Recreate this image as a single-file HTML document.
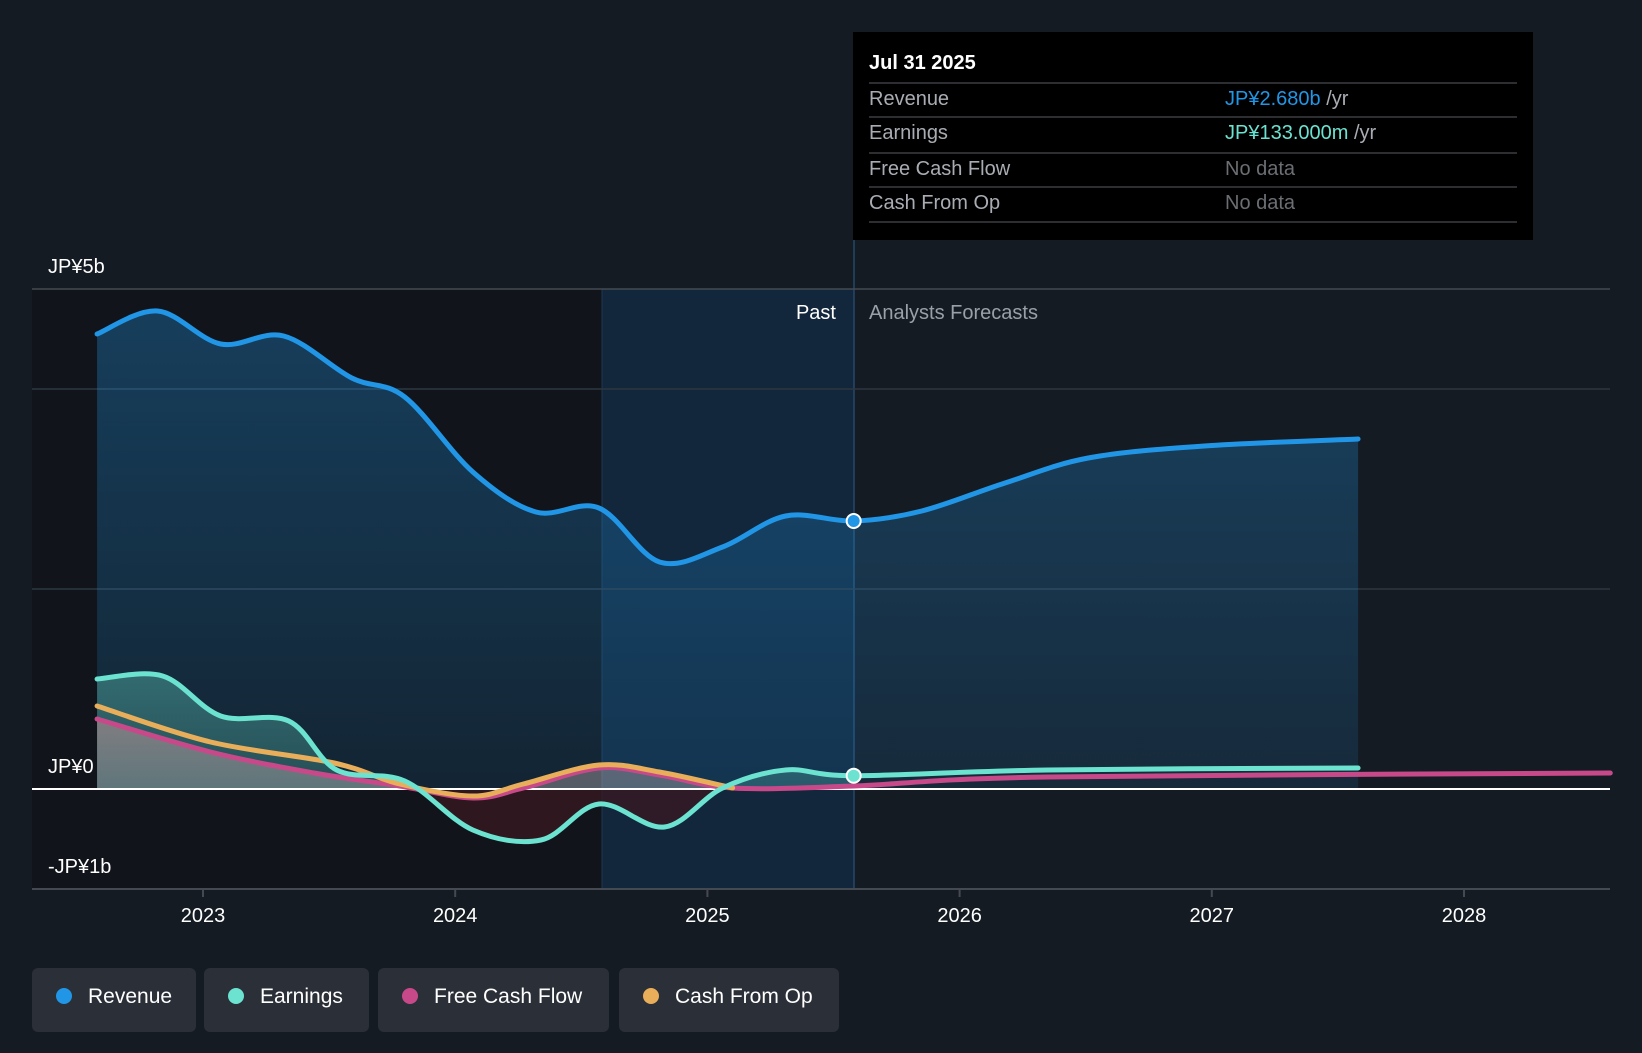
<!DOCTYPE html>
<html><head><meta charset="utf-8">
<style>
html,body{margin:0;padding:0;background:#151b23;}
body{width:1642px;height:1048px;overflow:hidden;font-family:"Liberation Sans",sans-serif;}
svg text{font-family:"Liberation Sans",sans-serif;}
</style></head>
<body>
<svg id="chart" width="1642" height="1048" xmlns="http://www.w3.org/2000/svg">
<defs>
<linearGradient id="revFill" x1="0" y1="0" x2="0" y2="1">
<stop offset="0" stop-color="#2196e6" stop-opacity="0.32"/>
<stop offset="1" stop-color="#2196e6" stop-opacity="0.12"/>
</linearGradient>
<linearGradient id="earnFill" x1="0" y1="0" x2="0" y2="1">
<stop offset="0" stop-color="#6be3d0" stop-opacity="0.35"/>
<stop offset="1" stop-color="#6be3d0" stop-opacity="0.15"/>
</linearGradient>
<linearGradient id="fcfFill" x1="0" y1="0" x2="0" y2="1">
<stop offset="0" stop-color="#e6a0a0" stop-opacity="0.45"/>
<stop offset="1" stop-color="#c0c0c0" stop-opacity="0.35"/>
</linearGradient>
<clipPath id="abovePos"><rect x="0" y="0" width="1642" height="789"/></clipPath>
<clipPath id="belowNeg"><rect x="0" y="789" width="1642" height="259"/></clipPath>
</defs>
<rect x="32" y="289" width="570" height="600" fill="#11151b"/>
<rect x="602" y="289" width="252" height="600" fill="#12273b"/>
<line x1="602" y1="289" x2="602" y2="889" stroke="#1d3750" stroke-width="1"/>
<line x1="854" y1="240" x2="854" y2="889" stroke="#24496a" stroke-width="1.5"/>
<g id="grid"></g>
<g id="areas"></g>
<g id="lines"></g>
<g id="axis"></g>
<text x="836" y="319" fill="#ffffff" font-size="20" text-anchor="end">Past</text>
<text x="869" y="319" fill="#9aa0a8" font-size="20">Analysts Forecasts</text>

<g>
<rect x="853" y="32" width="680" height="208" fill="#000000"/>
<text x="869" y="69" fill="#ffffff" font-size="20" font-weight="bold">Jul 31 2025</text>
<line x1="869" y1="83" x2="1517" y2="83" stroke="#3a3d42" stroke-width="1.5"/>
<text x="869" y="105" fill="#a9adb3" font-size="20">Revenue</text>
<text x="1225" y="105" fill="#2196e6" font-size="20">JP¥2.680b <tspan fill="#a9adb3">/yr</tspan></text>
<line x1="869" y1="117" x2="1517" y2="117" stroke="#3a3d42" stroke-width="1.5"/>
<text x="869" y="139" fill="#a9adb3" font-size="20">Earnings</text>
<text x="1225" y="139" fill="#6be3d0" font-size="20">JP¥133.000m <tspan fill="#a9adb3">/yr</tspan></text>
<line x1="869" y1="153" x2="1517" y2="153" stroke="#3a3d42" stroke-width="1.5"/>
<text x="869" y="175" fill="#a9adb3" font-size="20">Free Cash Flow</text>
<text x="1225" y="175" fill="#6b6e73" font-size="20">No data</text>
<line x1="869" y1="187" x2="1517" y2="187" stroke="#3a3d42" stroke-width="1.5"/>
<text x="869" y="209" fill="#a9adb3" font-size="20">Cash From Op</text>
<text x="1225" y="209" fill="#6b6e73" font-size="20">No data</text>
<line x1="869" y1="222" x2="1517" y2="222" stroke="#3a3d42" stroke-width="1.5"/>
</g>

<g>
<g><rect x="32" y="968" width="164" height="64" rx="6" fill="#2a2f38"/><circle cx="64" cy="996" r="8" fill="#2196e6"/><text x="88" y="1003" fill="#ffffff" font-size="21">Revenue</text></g>
<g><rect x="204" y="968" width="165" height="64" rx="6" fill="#2a2f38"/><circle cx="236" cy="996" r="8" fill="#6be3d0"/><text x="260" y="1003" fill="#ffffff" font-size="21">Earnings</text></g>
<g><rect x="378" y="968" width="231" height="64" rx="6" fill="#2a2f38"/><circle cx="410" cy="996" r="8" fill="#c8498a"/><text x="434" y="1003" fill="#ffffff" font-size="21">Free Cash Flow</text></g>
<g><rect x="619" y="968" width="220" height="64" rx="6" fill="#2a2f38"/><circle cx="651" cy="996" r="8" fill="#e8ae5a"/><text x="675" y="1003" fill="#ffffff" font-size="21">Cash From Op</text></g>
</g>
</svg>
<script>
const revT=[2022.58,2022.82,2023.07,2023.32,2023.59,2023.80,2024.07,2024.32,2024.57,2024.81,2025.06,2025.31,2025.58,2025.85,2026.18,2026.51,2026.97,2027.58];
const revV=[4.55,4.78,4.45,4.53,4.11,3.92,3.17,2.77,2.81,2.27,2.42,2.73,2.68,2.78,3.06,3.31,3.43,3.50];
const earnT=[2022.58,2022.84,2023.07,2023.34,2023.53,2023.80,2024.07,2024.34,2024.57,2024.83,2025.06,2025.31,2025.58,2026.35,2027.58];
const earnV=[1.10,1.13,0.73,0.68,0.19,0.08,-0.41,-0.51,-0.15,-0.38,0.01,0.19,0.133,0.19,0.21];
const fcfT=[2022.58,2023.03,2023.44,2023.78,2024.07,2024.27,2024.57,2024.81,2025.10,2025.58,2026.35,2028.58];
const fcfV=[0.70,0.37,0.16,0.03,-0.09,0.01,0.21,0.14,0.01,0.03,0.12,0.16];
const cfoT=[2022.58,2023.03,2023.52,2023.78,2024.07,2024.27,2024.57,2024.81,2025.10];
const cfoV=[0.83,0.47,0.26,0.05,-0.07,0.05,0.24,0.17,0.01];
const yTicks=[5,4,2];
const yLabels=[[5,'JP¥5b'],[0,'JP¥0'],[-1,'-JP¥1b']];
const xTicks=[2023,2024,2025,2026,2027,2028];

const X=t=>203+(t-2023)*252.2;
const Y=v=>789-v*100;
const NS='http://www.w3.org/2000/svg';
function mk(tag,attrs,parent){const e=document.createElementNS(NS,tag);for(const k in attrs)e.setAttribute(k,attrs[k]);parent.appendChild(e);return e;}
function path(T,V){
  const p=T.map((t,i)=>[X(t),Y(V[i])]);
  let d='M'+p[0][0]+','+p[0][1];
  for(let i=0;i<p.length-1;i++){
    const p0=p[i-1]||p[i],p1=p[i],p2=p[i+1],p3=p[i+2]||p2;
    const c1=[p1[0]+(p2[0]-p0[0])/6,p1[1]+(p2[1]-p0[1])/6];
    const c2=[p2[0]-(p3[0]-p1[0])/6,p2[1]-(p3[1]-p1[1])/6];
    d+=` C${c1[0]},${c1[1]} ${c2[0]},${c2[1]} ${p2[0]},${p2[1]}`;
  }
  return d;
}
function area(T,V){return path(T,V)+` L${X(T[T.length-1])},${Y(0)} L${X(T[0])},${Y(0)} Z`;}
const grid=document.getElementById('grid'),areas=document.getElementById('areas'),lines=document.getElementById('lines'),axis=document.getElementById('axis');
yTicks.forEach(v=>{const l=mk('line',{x1:32,x2:1610,y1:Y(v),y2:Y(v),stroke:v===5?'#454a52':'#2e3641','stroke-width':1.5},grid);

});
yLabels.forEach(([v,s])=>{const t=mk('text',{x:48,y:Y(v)-16,fill:'#ffffff','font-size':20},axis);t.textContent=s;

});
const ax=mk('line',{x1:32,x2:1610,y1:889,y2:889,stroke:'#454a52','stroke-width':2},axis);


xTicks.forEach(yr=>{mk('line',{x1:X(yr),x2:X(yr),y1:889,y2:897,stroke:'#454a52','stroke-width':2},axis);
const t=mk('text',{x:X(yr),y:922,fill:'#ffffff','font-size':20,'text-anchor':'middle'},axis);t.textContent=yr;

});

const ra=mk('path',{d:area(revT,revV),fill:'url(#revFill)'},areas);


const ea=mk('path',{d:area(earnT.slice(0,13),earnV.slice(0,13)),fill:'url(#earnFill)','clip-path':'url(#abovePos)'},areas);


const fa=mk('path',{d:area(fcfT.slice(0,10),fcfV.slice(0,10)),fill:'url(#fcfFill)','clip-path':'url(#abovePos)'},areas);


const neg=mk('path',{d:area(earnT.slice(0,13),earnV.slice(0,13)),fill:'#3a1822',opacity:0.75,'clip-path':'url(#belowNeg)'},areas);



const zl=mk('line',{x1:32,x2:1610,y1:Y(0),y2:Y(0),stroke:'#ffffff','stroke-width':2},lines);


[[fcfT,fcfV,'#c8498a','fcf-line'],[cfoT,cfoV,'#e8ae5a','cfo-line'],[earnT,earnV,'#6be3d0','earnings-line'],[revT,revV,'#2196e6','revenue-line']].forEach(([T,V,c,n])=>{
const l=mk('path',{d:path(T,V),fill:'none',stroke:c,'stroke-width':5,'stroke-linecap':'round'},lines);

});
const d1=mk('circle',{cx:X(2025.58),cy:Y(revV[12]),r:7,fill:'#2196e6',stroke:'#fff','stroke-width':2},lines);


const d2=mk('circle',{cx:X(2025.58),cy:Y(earnV[12]),r:7,fill:'#6be3d0',stroke:'#fff','stroke-width':2},lines);


</script>
</body></html>
